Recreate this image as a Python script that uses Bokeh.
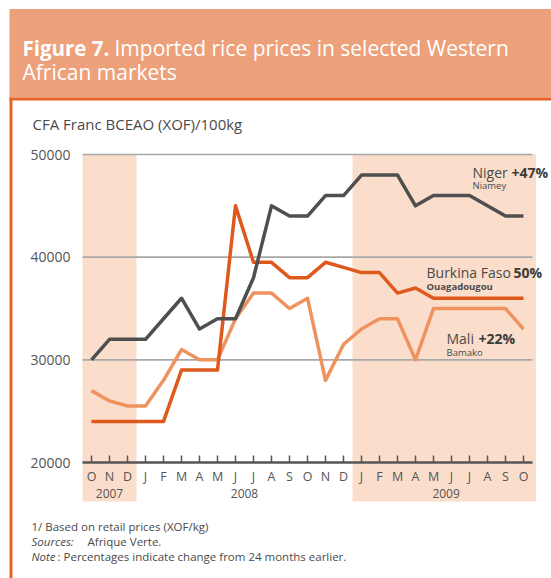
from bokeh.plotting import figure
from bokeh.models import (Range1d, FixedTicker, BoxAnnotation, Label, LinearAxis,
                          NumeralTickFormatter, ColumnDataSource)
from bokeh.embed import file_html
from bokeh.resources import INLINE

# ---------------- data ----------------
months = ["O", "N", "D", "J", "F", "M", "A", "M", "J", "J", "A", "S", "O",
          "N", "D", "J", "F", "M", "A", "M", "J", "J", "A", "S", "O"]
month_idx = list(range(len(months)))
years = ["2007", "2008", "2009"]
year_pos = [1, 8.5, 19.7]

niger = [30000, 32000, 32000, 32000, 34000, 36000, 33000, 34000, 34000, 38000,
         45000, 44000, 44000, 46000, 46000, 48000, 48000, 48000, 45000, 46000,
         46000, 46000, 45000, 44000, 44000]
burkina = [24000, 24000, 24000, 24000, 24000, 29000, 29000, 29000, 45000, 39500,
           39500, 38000, 38000, 39500, 39000, 38500, 38500, 36500, 37000, 36000,
           36000, 36000, 36000, 36000, 36000]
mali = [27000, 26000, 25500, 25500, 28000, 31000, 30000, 30000, 34000, 36500,
        36500, 35000, 36000, 28000, 31500, 33000, 34000, 34000, 30000, 35000,
        35000, 35000, 35000, 35000, 33000]

y_ticks = [20000, 30000, 40000, 50000]
grid_vals = [30000, 40000, 50000]
shade_2007 = (-0.5, 2.5)
shade_2009 = (14.5, 24.7)

# ---------------- layout helpers (page pixel -> data) ----------------
W, H = 551, 578
X0, DXP = 91.0, 18.0
Y50, DYP = 154.0, 308.0 / 30000.0


def dx(px):
    return (px - X0) / DXP


def dy(py):
    return 50000 - (py - Y50) / DYP


FONT = "Open Sans"
TXT = "#4a4a4a"

p = figure(width=W, height=H, x_range=Range1d(dx(0), dx(W)), y_range=Range1d(dy(H), dy(0)),
           output_backend="svg", toolbar_location=None, min_border=0,
           x_axis_type=None, y_axis_type=None, title=None)
p.outline_line_color = None
p.background_fill_color = "white"
p.border_fill_color = "white"

# header box + borders
p.add_layout(BoxAnnotation(left=dx(9), right=dx(W), top=dy(8.5), bottom=dy(97),
                           fill_color="#EDA17B", fill_alpha=1, line_color=None, level="image"))
p.add_layout(BoxAnnotation(left=dx(9), right=dx(W), top=dy(97), bottom=dy(100),
                           fill_color="#E5622A", fill_alpha=1, line_color=None, level="image"))
p.add_layout(BoxAnnotation(left=dx(9), right=dx(12), top=dy(97), bottom=dy(H),
                           fill_color="#E5622A", fill_alpha=1, line_color=None, level="image"))

# shaded periods
for (l, r) in (shade_2007, shade_2009):
    p.add_layout(BoxAnnotation(left=l, right=r, top=grid_vals[-1], bottom=dy(501),
                               fill_color="#FADDCB", fill_alpha=1, line_color=None, level="image"))

# gridlines
p.segment(x0=dx(82), x1=dx(532), y0=grid_vals, y1=grid_vals, line_color="#A8A8A8", line_width=1.6)

# series
src = ColumnDataSource(dict(x=month_idx, niger=niger, burkina=burkina, mali=mali))
p.line("x", "mali", source=src, line_color="#EE935F", line_width=3.5, line_join="round")
p.line("x", "burkina", source=src, line_color="#E0591C", line_width=3.5, line_join="round")
p.line("x", "niger", source=src, line_color="#4F4F4F", line_width=3.5, line_join="round")

# x axis (months)
xax = LinearAxis(ticker=FixedTicker(ticks=month_idx),
                 major_label_overrides={i: m for i, m in zip(month_idx, months)},
                 fixed_location=y_ticks[0], bounds=(dx(82), dx(532)),
                 axis_line_color="#555555", axis_line_width=2.5,
                 major_tick_in=7, major_tick_out=0, major_tick_line_color="#555555",
                 major_tick_line_width=1.5, minor_tick_line_color=None,
                 major_label_text_font=FONT, major_label_text_font_size="12.5px",
                 major_label_text_color="#555555", major_label_standoff=5)
p.add_layout(xax, "below")

# x axis (years)
yrax = LinearAxis(ticker=FixedTicker(ticks=year_pos),
                  major_label_overrides={k: v for k, v in zip(year_pos, years)},
                  fixed_location=y_ticks[0], axis_line_color=None,
                  major_tick_line_color=None, minor_tick_line_color=None,
                  major_label_text_font=FONT, major_label_text_font_size="12px",
                  major_label_text_color="#555555", major_label_standoff=20)
p.add_layout(yrax, "below")

# y axis
yax = LinearAxis(ticker=FixedTicker(ticks=y_ticks), fixed_location=dx(80),
                 axis_line_color=None, major_tick_line_color=None, minor_tick_line_color=None,
                 formatter=NumeralTickFormatter(format="0"),
                 major_label_text_font=FONT, major_label_text_font_size="14px",
                 major_label_text_color="#555555", major_label_standoff=4)
p.add_layout(yax, "left")


def lab(text, px, py, size, color=TXT, style="normal", baseline="middle"):
    p.add_layout(Label(x=dx(px), y=dy(py), text=text, text_font=FONT, text_font_size=size,
                       text_color=color, text_font_style=style, text_baseline=baseline,
                       text_align="left"))


# title
lab("Figure 7.", 22, 47, "20.5px", "white", "bold", "alphabetic")
lab("Imported rice prices in selected Western", 114, 47, "21px", "white", "normal", "alphabetic")
lab("African markets", 22, 71, "21px", "white", "normal", "alphabetic")

# axis title
lab("CFA Franc BCEAO (XOF)/100kg", 32, 123, "15px")

# series labels
lab("Niger", 472, 171.5, "14px")
lab("+47%", 511, 171.5, "14px", "#3a3a3a", "bold")
lab("Niamey", 472, 184.5, "9.5px")
lab("Burkina Faso", 426, 272, "14px")
lab("50%", 513, 272, "14px", "#3a3a3a", "bold")
lab("Ouagadougou", 426, 286, "9.5px", TXT, "bold")
lab("Mali", 446, 338, "14px")
lab("+22%", 478, 338, "14px", "#3a3a3a", "bold")
lab("Bamako", 446, 352, "9.5px")

# footnotes
lab("1/ Based on retail prices (XOF/kg)", 31, 526, "11.5px")
lab("Sources:", 31, 541, "11.5px", TXT, "italic")
lab("Afrique Verte.", 87, 541, "11.5px")
lab("Note", 31, 555.5, "11.5px", TXT, "italic")
lab(": Percentages indicate change from 24 months earlier.", 57, 555.5, "11.5px")

open("out.html", "w").write(file_html(p, INLINE))
